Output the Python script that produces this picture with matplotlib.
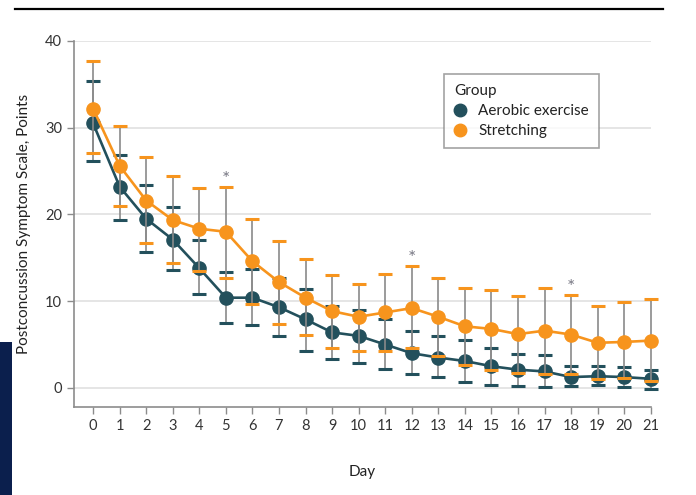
import matplotlib
matplotlib.use("Agg")
import matplotlib.pyplot as plt
from matplotlib.lines import Line2D
from matplotlib.patches import Rectangle
import numpy as np

plt.rcParams['font.family'] = ['Liberation Sans Narrow', 'Lato', 'DejaVu Sans']

days = list(range(22))

aerobic_mean = [30.5, 23.2, 19.5, 17.1, 13.8, 10.4, 10.4, 9.3, 7.9, 6.4, 6.0,
                5.0, 4.0, 3.5, 3.1, 2.5, 2.1, 1.9, 1.25, 1.35, 1.25, 1.05]
aerobic_upper = [35.4, 26.8, 23.4, 20.85, 17.0, 13.4, 13.7, 12.7, 11.45, 9.5, 9.0,
                 7.9, 6.6, 6.0, 5.5, 4.65, 3.9, 3.8, 2.55, 2.55, 2.4, 2.1]
aerobic_lower = [26.2, 19.4, 15.7, 13.6, 10.8, 7.5, 7.26, 6.0, 4.25, 3.3, 2.9,
                 2.2, 1.65, 1.2, 0.73, 0.35, 0.23, 0.08, 0.2, 0.3, 0.1, -0.1]

stretch_mean = [32.2, 25.6, 21.6, 19.35, 18.35, 18.0, 14.6, 12.2, 10.4, 8.85, 8.2,
                8.7, 9.2, 8.2, 7.1, 6.8, 6.2, 6.6, 6.15, 5.2, 5.3, 5.45]
stretch_upper = [37.7, 30.2, 26.6, 24.4, 23.1, 23.2, 19.45, 16.95, 14.85, 13.0, 12.0,
                 13.15, 14.0, 12.7, 11.5, 11.3, 10.65, 11.5, 10.7, 9.5, 9.9, 10.2]
stretch_lower = [27.1, 21.0, 16.7, 14.4, 13.5, 12.7, 9.65, 7.4, 6.1, 4.65, 4.3,
                 4.3, 4.55, 3.7, 2.6, 2.1, 1.7, 1.65, 1.6, 1.0, 1.15, 0.85]

significant_days = [5, 12, 18]

y_ticks = [0, 10, 20, 30, 40]

teal = "#23505c"
orange = "#f7941d"
bar_gray = "#8a8a8a"

fig = plt.figure(figsize=(6.96, 4.95), dpi=100)
ax = fig.add_axes([0.1063, 0.1778, 0.8287, 0.7395])

# header rule and side block
fig.add_artist(Line2D([0.022, 0.953], [0.981, 0.981], color="black", lw=1.6,
                      transform=fig.transFigure))
fig.add_artist(Rectangle((0, 0), 0.017, 0.309, transform=fig.transFigure,
                         facecolor="#0b1f4d", edgecolor="none"))


def draw_group(mean, lower, upper, color, label, z):
    mean = np.asarray(mean)
    yerr = [mean - np.asarray(lower), np.asarray(upper) - mean]
    _, caps, bars = ax.errorbar(days, mean, yerr=yerr, fmt="none", ecolor=bar_gray,
                                elinewidth=1.2, capsize=5, capthick=2.2,
                                zorder=z, clip_on=False)
    for c in caps:
        c.set_markeredgecolor(color)
        c.set_clip_on(False)
    for b in bars:
        b.set_clip_on(False)
    ax.plot(days, mean, color=color, lw=1.9, marker="o", markersize=9.5,
            zorder=z + 1, label=label, clip_on=False)


draw_group(aerobic_mean, aerobic_lower, aerobic_upper, teal, "Aerobic exercise", 3)
draw_group(stretch_mean, stretch_lower, stretch_upper, orange, "Stretching", 5)

for d in significant_days:
    ax.text(d, stretch_upper[d] - 0.1, "*", ha="center", va="bottom",
            fontsize=14, color="#7a7a86")

ax.set_xlim(-0.72, 21)
ax.set_ylim(-2.2, 40)
ax.set_xticks(days)
ax.set_yticks(y_ticks)
ax.yaxis.grid(True, color="#e3e3e3", lw=1.3)
ax.set_axisbelow(True)

for s in ("top", "right"):
    ax.spines[s].set_visible(False)
for s in ("left", "bottom"):
    ax.spines[s].set_color("#8c8c8c")
    ax.spines[s].set_linewidth(1.2)
ax.spines["left"].set_bounds(-2.2, 40)

ax.tick_params(axis="both", colors="#8c8c8c", labelcolor="#333333",
               labelsize=10.5, length=5, width=1)

ax.set_xlabel("Day", fontsize=11, color="#222222", labelpad=23)
ax.set_ylabel("Postconcussion Symptom Scale, Points", fontsize=11,
              color="#222222", labelpad=10)

handles = [Line2D([], [], ls="none", marker="o", markersize=9, color=teal),
           Line2D([], [], ls="none", marker="o", markersize=9, color=orange)]
leg = ax.legend(handles, ["Aerobic exercise", "Stretching"], title="Group",
                loc="upper left", bbox_to_anchor=(0.627, 0.866),
                bbox_transform=fig.transFigure, frameon=True, fancybox=False,
                fontsize=11, title_fontsize=11, handlelength=0.8,
                handletextpad=0.8, borderpad=0.65, labelspacing=0.4,
                alignment="left")
leg.get_frame().set_edgecolor("#8c8c8c")
leg.get_frame().set_linewidth(1.2)
for t in leg.get_texts():
    t.set_color("#222222")
leg.get_title().set_color("#222222")

fig.savefig("out.png", dpi=100)
